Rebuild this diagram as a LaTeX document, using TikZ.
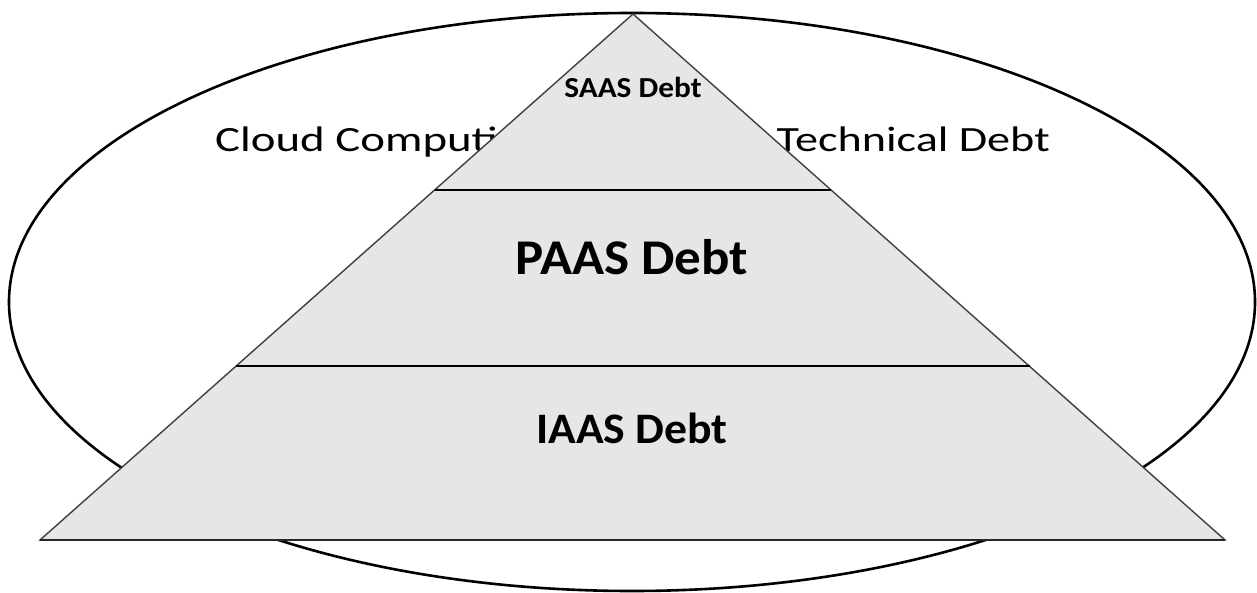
\documentclass[tikz,border=0pt]{standalone}
\usepackage{fontspec}
\usepackage{graphicx}
\usetikzlibrary{shapes.geometric}
\setmainfont{Carlito}
\definecolor{tierfill}{HTML}{E6E6E6}
\tikzset{
  outline/.style={draw=black, line width=2.6pt},
  tier/.style={fill=tierfill, draw=black!75, line width=1.4pt, line join=miter},
  divider/.style={draw=black, line width=2pt},
  plain/.style={inner sep=0pt, font=\fontsize{35.5}{42}\selectfont},
  tierlabel/.style={inner sep=0pt, anchor=base}
}
\begin{document}
\begin{tikzpicture}[x=1pt, y=-1pt]
  \useasboundingbox (0,0) rectangle (1257,593);
  % surrounding domain
  \node[outline, ellipse, minimum width=1246pt, minimum height=578pt, inner sep=0pt] (domain) at (632,302) {};
  \node[plain, anchor=base west] (cloud) at (215,152) {\scalebox{1.32}[1]{Cloud Computing}};
  \node[plain, anchor=base east] (techdebt) at (1050,152) {\scalebox{1.3}[1]{Technical Debt}};
  % pyramid
  \coordinate (apex) at (633,14);
  \coordinate (bl) at (40,540);
  \coordinate (br) at (1225,540);
  \coordinate (l1) at (434.6,190);
  \coordinate (r1) at (831.4,190);
  \coordinate (l2) at (236.2,366);
  \coordinate (r2) at (1029.8,366);
  \path[tier] (apex) -- (br) -- (bl) -- cycle;
  \draw[divider] (l1) -- (r1);
  \draw[divider] (l2) -- (r2);
  \draw[black!85, line width=1.6pt] (bl) -- (br);
  % tier labels
  \node[tierlabel, font=\bfseries\fontsize{29}{34}\selectfont] (saas) at (633,98) {\scalebox{1.08}[1]{SAAS Debt}};
  \node[tierlabel, font=\bfseries\fontsize{50}{60}\selectfont] (paas) at (632,275) {\scalebox{1.06}[1]{PAAS Debt}};
  \node[tierlabel, font=\bfseries\fontsize{43.5}{52}\selectfont] (iaas) at (632,443) {\scalebox{1.05}[1]{IAAS Debt}};
\end{tikzpicture}
\end{document}
